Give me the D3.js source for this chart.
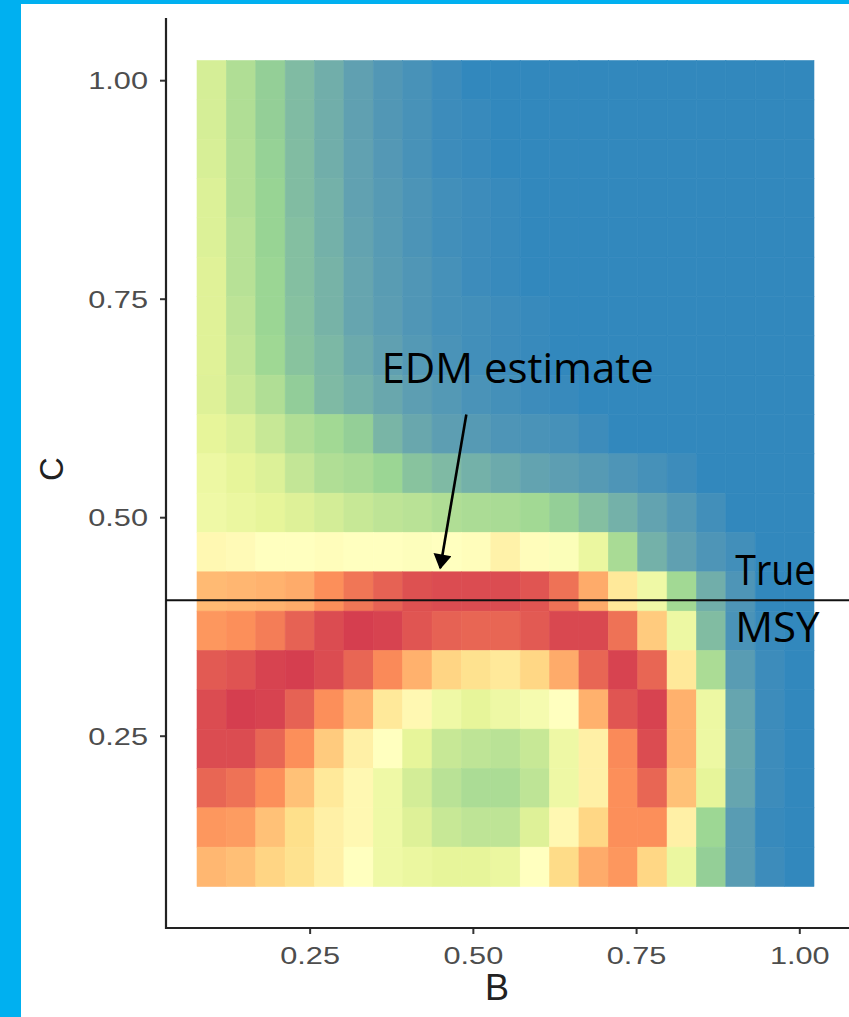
<!DOCTYPE html>
<html>
<head>
<meta charset="utf-8">
<script src="https://cdn.jsdelivr.net/npm/d3@7"></script>
<style>
  html, body { margin: 0; padding: 0; background: #ffffff; }
  svg { display: block; }
</style>
</head>
<body>
<svg id="chart" width="849" height="1017"></svg>
<script>
// Grid of B (x) values, left to right
const B_VALUES = [0.1, 0.145, 0.19, 0.235, 0.28, 0.325, 0.37, 0.415, 0.46, 0.505, 0.55,
                  0.595, 0.64, 0.685, 0.73, 0.775, 0.82, 0.865, 0.91, 0.955, 1.0];
// Grid of C (y) values, top row first
const C_VALUES = [1.0, 0.955, 0.91, 0.865, 0.82, 0.775, 0.73, 0.685, 0.64, 0.595, 0.55,
                  0.505, 0.46, 0.415, 0.37, 0.325, 0.28, 0.235, 0.19, 0.145, 0.1];

// Scaled surface value per cell (0 = red end, 1 = blue end); one row per C value
const Z_ROWS = [
  [0.705,0.785,0.845,0.887,0.915,0.945,0.965,0.978,0.99,1,1,1,1,1,1,1,1,1,1,1,1],
  [0.705,0.785,0.845,0.887,0.915,0.945,0.965,0.978,0.99,0.995,1,1,1,1,1,1,1,1,1,1,1],
  [0.70,0.78,0.84,0.885,0.915,0.943,0.963,0.978,0.99,0.995,1,1,1,1,1,1,1,1,1,1,1],
  [0.69,0.78,0.835,0.885,0.91,0.943,0.96,0.973,0.985,0.99,0.995,1,1,1,1,1,1,1,1,1,1],
  [0.69,0.77,0.835,0.88,0.91,0.94,0.958,0.973,0.985,0.99,0.995,1,1,1,1,1,1,1,1,1,1],
  [0.68,0.77,0.83,0.88,0.905,0.935,0.955,0.968,0.98,0.99,0.995,1,1,1,1,1,1,1,1,1,1],
  [0.68,0.76,0.83,0.875,0.905,0.935,0.952,0.968,0.98,0.985,0.99,0.995,1,1,1,1,1,1,1,1,1],
  [0.68,0.75,0.82,0.87,0.895,0.925,0.945,0.962,0.975,0.985,0.99,0.995,1,1,1,1,1,1,1,1,1],
  [0.685,0.735,0.785,0.85,0.89,0.91,0.93,0.95,0.962,0.975,0.982,0.99,0.995,1,1,1,1,1,1,1,1],
  [0.66,0.69,0.735,0.785,0.815,0.845,0.90,0.93,0.95,0.96,0.97,0.975,0.98,0.99,1,1,1,1,1,1,1],
  [0.62,0.66,0.69,0.745,0.785,0.80,0.83,0.87,0.89,0.91,0.925,0.94,0.95,0.96,0.97,0.98,0.99,1,1,1,1],
  [0.607,0.633,0.66,0.685,0.71,0.735,0.755,0.765,0.785,0.795,0.80,0.815,0.845,0.88,0.91,0.94,0.962,0.985,1,1,1],
  [0.46,0.475,0.50,0.50,0.487,0.50,0.50,0.513,0.50,0.487,0.43,0.487,0.525,0.633,0.80,0.91,0.945,0.97,0.985,1,1],
  [0.255,0.248,0.24,0.225,0.17,0.115,0.07,0.035,0.026,0.026,0.026,0.044,0.105,0.225,0.38,0.607,0.815,0.915,0.97,1,1],
  [0.185,0.17,0.13,0.07,0.026,0.00,0.009,0.044,0.07,0.08,0.08,0.053,0.018,0.018,0.105,0.29,0.62,0.885,0.975,0.995,1],
  [0.053,0.04,0.009,0.00,0.026,0.08,0.16,0.237,0.31,0.345,0.38,0.315,0.225,0.08,0.009,0.08,0.38,0.795,0.955,0.99,1],
  [0.026,0.00,0.009,0.07,0.17,0.24,0.38,0.46,0.607,0.66,0.613,0.567,0.50,0.237,0.044,0.009,0.237,0.62,0.935,0.99,1],
  [0.026,0.026,0.08,0.17,0.29,0.42,0.50,0.66,0.735,0.755,0.765,0.735,0.613,0.42,0.16,0.026,0.237,0.62,0.93,0.99,1],
  [0.08,0.105,0.17,0.27,0.38,0.46,0.607,0.71,0.765,0.795,0.795,0.755,0.613,0.42,0.17,0.08,0.27,0.66,0.935,0.99,1],
  [0.185,0.195,0.27,0.333,0.42,0.46,0.607,0.685,0.735,0.755,0.755,0.685,0.46,0.315,0.17,0.17,0.42,0.825,0.955,0.995,1],
  [0.25,0.265,0.31,0.345,0.42,0.50,0.607,0.633,0.66,0.66,0.633,0.50,0.325,0.225,0.185,0.315,0.633,0.845,0.955,0.99,1]
];

// Axis ticks
const X_TICKS = [0.25, 0.50, 0.75, 1.00];
const Y_TICKS = [0.25, 0.50, 0.75, 1.00];

// Reference level and annotation text
const MSY_LEVEL = 0.405;
const EDM_LABEL = "EDM estimate";
const MSY_LABEL = ["True", "MSY"];

// Seven-class Spectral palette, interpolated in Lab space
const PALETTE = ["#d53e4f", "#fc8d59", "#fee08b", "#ffffbf", "#e6f598", "#99d594", "#3288bd"];

const svg = d3.select("#chart");
const W = 849, H = 1017;
const STEP = 0.045;

svg.append("rect").attr("width", W).attr("height", H).attr("fill", "#ffffff");

// Slide frame
svg.append("rect").attr("x", 0).attr("y", 0).attr("width", 21).attr("height", H).attr("fill", "#00b0f0");
svg.append("rect").attr("x", 0).attr("y", 0).attr("width", W).attr("height", 4).attr("fill", "#00b0f0");

const x = d3.scaleLinear().domain([0.03, 1.07]).range([166, 845]);
const y = d3.scaleLinear().domain([0.03, 1.07]).range([928, 19]);

const color = d3.scaleLinear()
  .domain(d3.range(PALETTE.length).map(i => i / (PALETTE.length - 1)))
  .range(PALETTE)
  .interpolate(d3.interpolateLab);

const cells = [];
Z_ROWS.forEach((row, j) => row.forEach((z, i) => cells.push({ b: B_VALUES[i], c: C_VALUES[j], z })));

svg.append("g").selectAll("rect").data(cells).join("rect")
  .attr("x", d => x(d.b - STEP / 2))
  .attr("y", d => y(d.c + STEP / 2))
  .attr("width", d => x(d.b + STEP / 2) - x(d.b - STEP / 2))
  .attr("height", d => y(d.c - STEP / 2) - y(d.c + STEP / 2))
  .attr("fill", d => color(d.z))
  .attr("stroke", d => color(d.z))
  .attr("stroke-width", 0.6);

// Axes
const axisColor = "#222";
const labelColor = "#4d4d4d";
const STRETCH = 1.28;

const gx = svg.append("g").attr("transform", `translate(0,${y(0.03)})`)
  .call(d3.axisBottom(x).tickValues(X_TICKS).tickFormat(d3.format(".2f")).tickSize(6).tickSizeOuter(0));
gx.select(".domain").remove();
gx.selectAll(".tick line").attr("stroke", "#333").attr("stroke-width", 2);
gx.selectAll(".tick text")
  .attr("font-family", "'Liberation Sans', Arial, sans-serif")
  .attr("font-size", 24).attr("fill", labelColor)
  .attr("dy", 0).attr("y", 36)
  .attr("transform", `scale(${STRETCH},1)`);

const gy = svg.append("g").attr("transform", `translate(${x(0.03)},0)`)
  .call(d3.axisLeft(y).tickValues(Y_TICKS).tickFormat(d3.format(".2f")).tickSize(6).tickSizeOuter(0));
gy.select(".domain").remove();
gy.selectAll(".tick line").attr("stroke", "#333").attr("stroke-width", 2);
gy.selectAll(".tick text")
  .attr("font-family", "'Liberation Sans', Arial, sans-serif")
  .attr("font-size", 24).attr("fill", labelColor)
  .attr("x", -18 / STRETCH).attr("dy", "0.35em")
  .attr("transform", `scale(${STRETCH},1)`);

// Axis lines
svg.append("line").attr("x1", x(0.03)).attr("x2", x(0.03)).attr("y1", 18).attr("y2", y(0.03) + 1)
  .attr("stroke", axisColor).attr("stroke-width", 2.2);
svg.append("line").attr("x1", x(0.03) - 1).attr("x2", W).attr("y1", y(0.03)).attr("y2", y(0.03))
  .attr("stroke", axisColor).attr("stroke-width", 2.2);

// Axis titles
svg.append("text").attr("x", 497).attr("y", 1000).attr("text-anchor", "middle")
  .attr("font-family", "'Liberation Sans', Arial, sans-serif").attr("font-size", 36)
  .attr("fill", "#222").text("B");
svg.append("text").attr("transform", "translate(63,469) rotate(-90)").attr("text-anchor", "middle")
  .attr("font-family", "'Liberation Sans', Arial, sans-serif").attr("font-size", 33)
  .attr("fill", "#222").text("C");

// True MSY reference line
svg.append("line").attr("x1", x(0.03)).attr("x2", W).attr("y1", y(MSY_LEVEL)).attr("y2", y(MSY_LEVEL))
  .attr("stroke", "#111").attr("stroke-width", 2.2);

const annoFont = "'Open Sans', 'Noto Sans', sans-serif";
svg.append("text").attr("x", x(0.36)).attr("y", y(0.654))
  .attr("font-family", annoFont).attr("font-size", 42).attr("fill", "#000").text(EDM_LABEL);
svg.append("text").attr("x", x(0.902)).attr("y", y(0.4224))
  .attr("font-family", annoFont).attr("font-size", 42).attr("fill", "#000")
  .attr("textLength", 80).attr("lengthAdjust", "spacingAndGlyphs").text(MSY_LABEL[0]);
svg.append("text").attr("x", x(0.902)).attr("y", y(0.357))
  .attr("font-family", annoFont).attr("font-size", 42).attr("fill", "#000").text(MSY_LABEL[1]);

// Arrow from the label to the estimate row
svg.append("defs").append("marker")
  .attr("id", "head").attr("viewBox", "0 0 10 12").attr("refX", 9).attr("refY", 6)
  .attr("markerWidth", 7).attr("markerHeight", 7).attr("orient", "auto")
  .append("path").attr("d", "M0,0 L10,6 L0,12 Z").attr("fill", "#000");
svg.append("line")
  .attr("x1", x(0.49)).attr("y1", y(0.6176))
  .attr("x2", x(0.45)).attr("y2", y(0.4418))
  .attr("stroke", "#000").attr("stroke-width", 2.6)
  .attr("marker-end", "url(#head)");
</script>
</body>
</html>
